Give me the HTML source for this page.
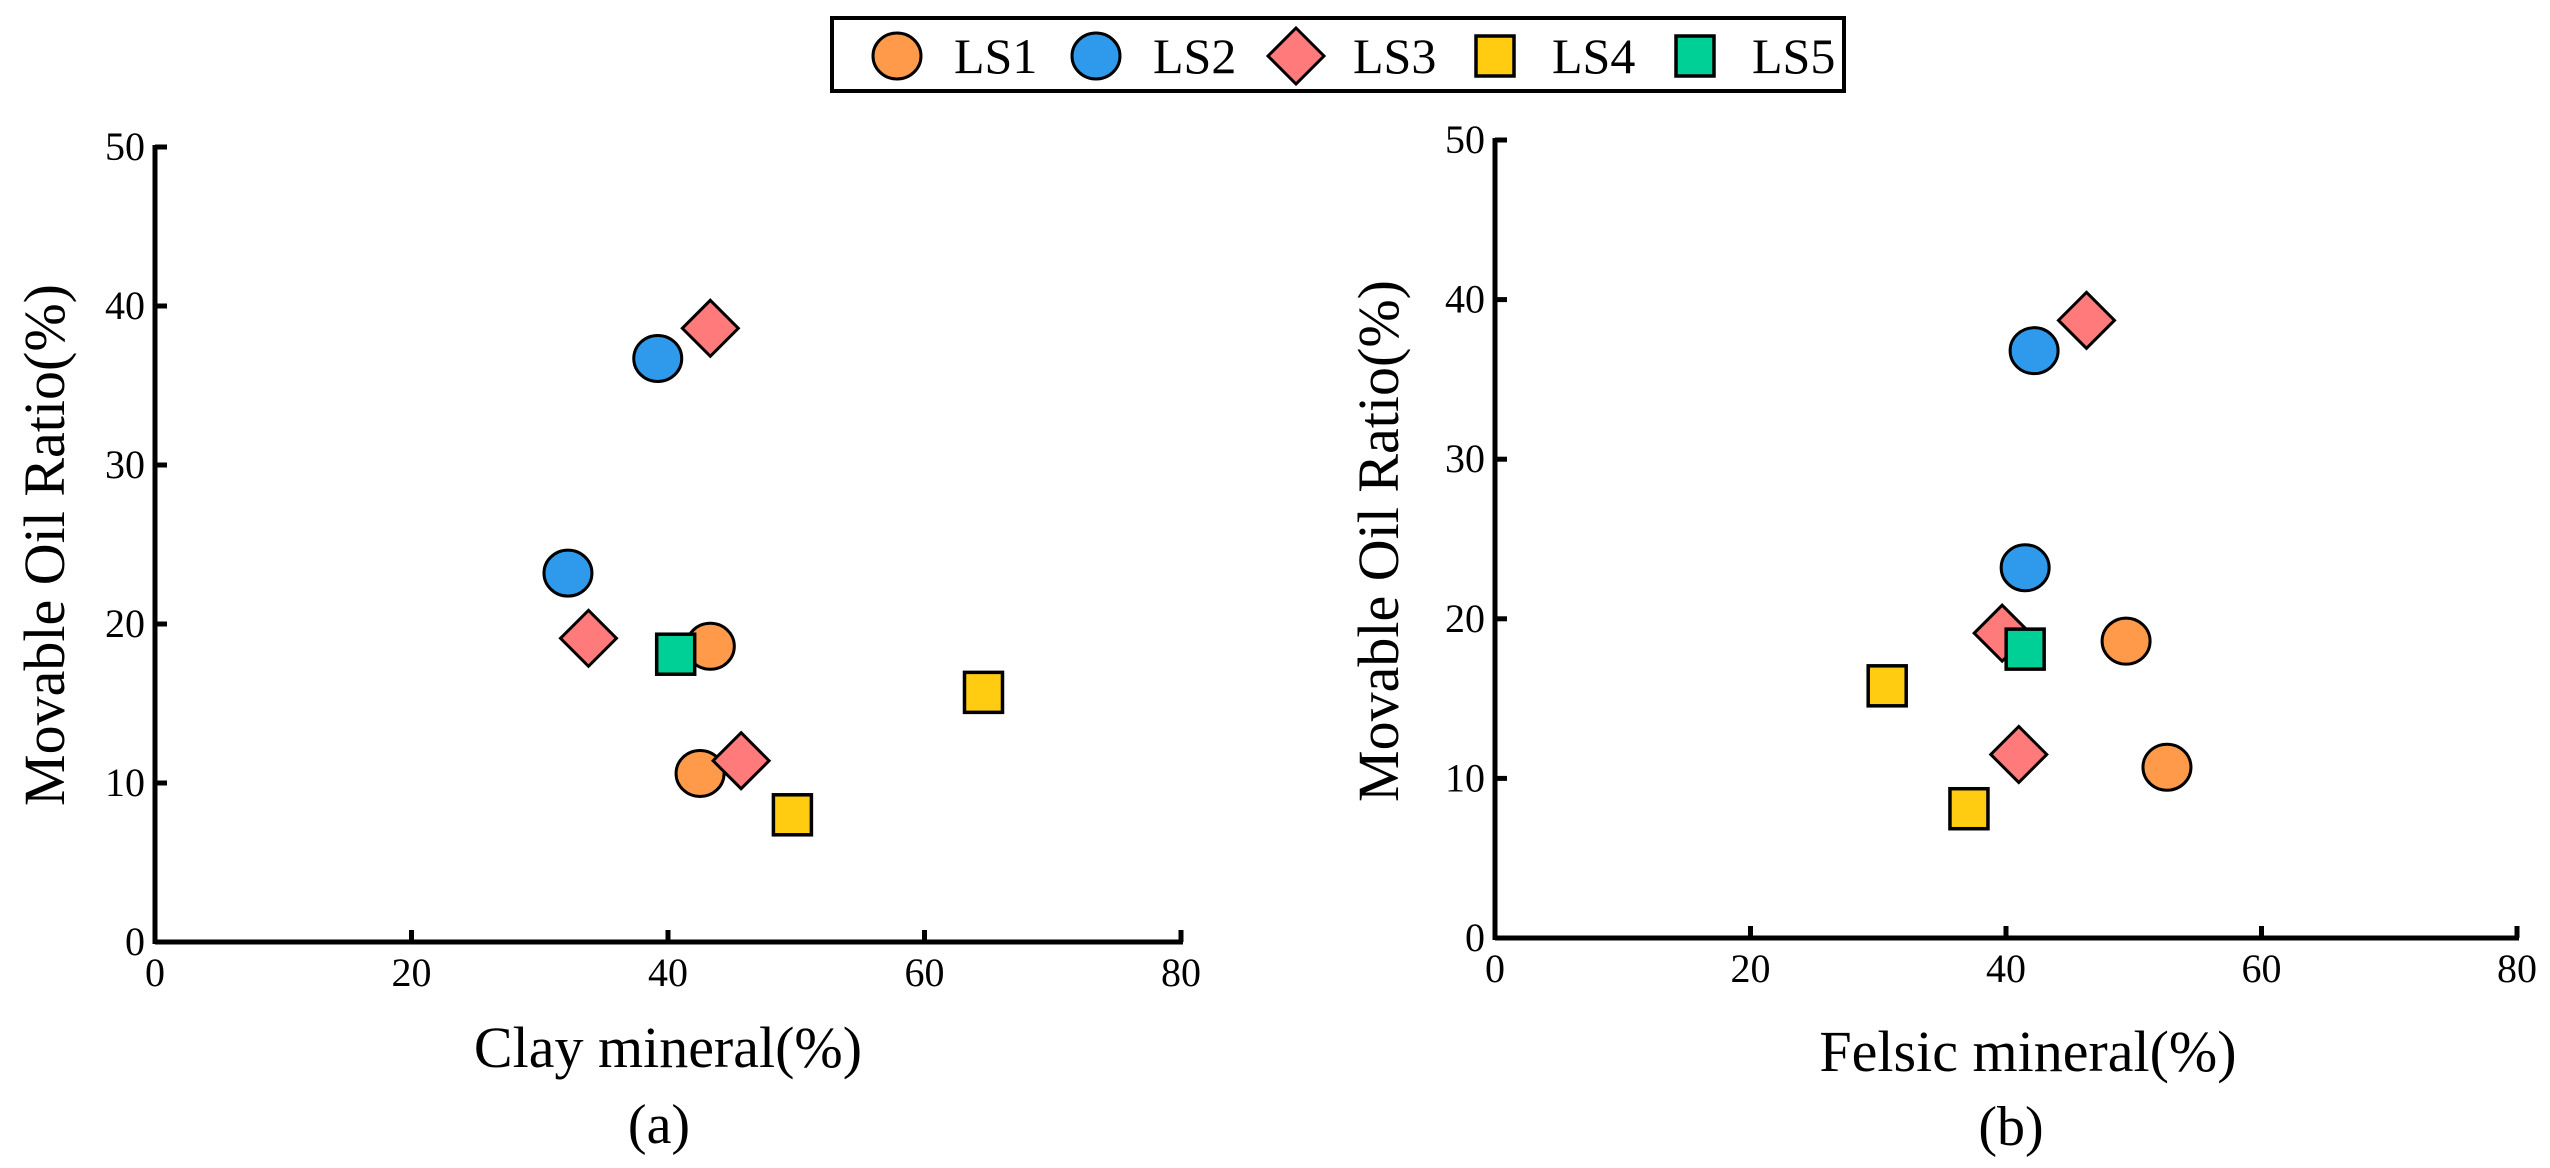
<!DOCTYPE html>
<html><head><meta charset="utf-8"><style>
html,body{margin:0;padding:0;background:#fff;}
svg{display:block;font-family:"Liberation Serif",serif;}
</style></head><body>
<svg id="chart" width="2550" height="1168" viewBox="0 0 2550 1168" xmlns="http://www.w3.org/2000/svg">
<g id="legend">
<rect x="832" y="18" width="1012" height="73" fill="#fff" stroke="#000" stroke-width="4"/>
</g>
<g id="panelA"></g>
<g id="panelB"></g>
</svg>
<script>
const seriesNames = ["LS1","LS2","LS3","LS4","LS5"];
const seriesColors = ["#FF9A4A","#2F9AEB","#FF7A7A","#FFCC11","#00D096"];
const seriesShapes = ["circle","circle","diamond","square","square"];
const xTicks = [0,20,40,60,80];
const yTicks = [0,10,20,30,40,50];
// panel (a): clay mineral
const clayLS1 = [[43.3,18.6],[42.5,10.6]];
const clayLS2 = [[39.2,36.7],[32.2,23.2]];
const clayLS3 = [[43.3,38.6],[33.8,19.1],[45.7,11.4]];
const clayLS4 = [[64.6,15.7],[49.7,8.0]];
const clayLS5 = [[40.6,18.1]];
// panel (b): felsic mineral
const felsicLS1 = [[49.4,18.6],[52.6,10.7]];
const felsicLS2 = [[42.2,36.8],[41.5,23.2]];
const felsicLS3 = [[46.3,38.7],[39.7,19.1],[41.0,11.5]];
const felsicLS4 = [[30.7,15.8],[37.1,8.1]];
const felsicLS5 = [[41.5,18.1]];

const NS="http://www.w3.org/2000/svg";
function mk(tag,attrs,parent){const e=document.createElementNS(NS,tag);for(const k in attrs)e.setAttribute(k,attrs[k]);parent.appendChild(e);return e;}

function marker(shape,color,cx,cy,parent){
  let e;
  if(shape==="circle") e=mk("ellipse",{cx:cx,cy:cy,rx:24,ry:23,fill:color,stroke:"#000","stroke-width":3},parent);
  else if(shape==="diamond") e=mk("polygon",{points:`${cx},${cy-28} ${cx+28},${cy} ${cx},${cy+28} ${cx-28},${cy}`,fill:color,stroke:"#000","stroke-width":3},parent);
  else e=mk("rect",{x:cx-19,y:cy-20,width:38,height:40,fill:color,stroke:"#000","stroke-width":3.5},parent);
  return e;
}

function panel(g,cfg,data){
  const sx=v=>cfg.x0+(cfg.x1-cfg.x0)*v/80;
  const sy=v=>cfg.y0+(cfg.y1-cfg.y0)*v/50;
  const ax=mk("line",{x1:cfg.x0,y1:cfg.y0,x2:cfg.x1+2,y2:cfg.y0,stroke:"#000","stroke-width":5},g);
  
  
  const ay=mk("line",{x1:cfg.x0,y1:cfg.y0+2,x2:cfg.x0,y2:cfg.y1-2,stroke:"#000","stroke-width":5},g);
  
  
  xTicks.forEach(t=>{
    const x=sx(t);
    if(t>0){const l=mk("line",{x1:x,y1:cfg.y0,x2:x,y2:cfg.y0-12,stroke:"#000","stroke-width":5},g);
    
    }
    const tx=mk("text",{x:x,y:cfg.y0+44,"font-size":40,"text-anchor":"middle"},g);
    tx.textContent=t;
    
    
  });
  yTicks.forEach(t=>{
    const y=sy(t);
    if(t>0){const l=mk("line",{x1:cfg.x0,y1:y,x2:cfg.x0+12,y2:y,stroke:"#000","stroke-width":5},g);
    
    }
    const tx=mk("text",{x:cfg.x0-10,y:y+13,"font-size":40,"text-anchor":"end"},g);
    tx.textContent=t;
    
    
  });
  const xt=mk("text",{x:cfg.xtx,y:cfg.xty,"font-size":58,"text-anchor":"middle"},g);
  xt.textContent=cfg.xtitle;
  
  
  const lab=mk("text",{x:cfg.labx,y:cfg.laby,"font-size":56,"text-anchor":"middle"},g);
  lab.textContent=cfg.label;
  
  
  const yt=mk("text",{x:0,y:0,"font-size":58,"text-anchor":"middle",transform:`translate(${cfg.ytx},${cfg.yty}) rotate(-90)`},g);
  yt.textContent="Movable Oil Ratio(%)";
  
  
  data.forEach((pts,i)=>{
    pts.forEach(p=>{
      const m=marker(seriesShapes[i],seriesColors[i],sx(p[0]),sy(p[1]),g);
      
      
    });
  });
}

panel(document.getElementById("panelA"),
  {x0:155,x1:1181,y0:942,y1:147,xtitle:"Clay mineral(%)",xtx:668,xty:1067,label:"(a)",labx:659,laby:1143,ytx:64,yty:545},
  [clayLS1,clayLS2,clayLS3,clayLS4,clayLS5]);
panel(document.getElementById("panelB"),
  {x0:1495,x1:2517,y0:938,y1:140,xtitle:"Felsic mineral(%)",xtx:2028,xty:1071,label:"(b)",labx:2011,laby:1145,ytx:1398,yty:541},
  [felsicLS1,felsicLS2,felsicLS3,felsicLS4,felsicLS5]);

const lg=document.getElementById("legend");
const legMarkX=[897,1096,1296,1495,1695];
seriesNames.forEach((n,i)=>{
  const m=marker(seriesShapes[i],seriesColors[i],legMarkX[i],56,lg);
  
  
  const t=mk("text",{x:legMarkX[i]+57,y:73,"font-size":50},lg);
  t.textContent=n;
  
  
});
</script>
</body></html>
